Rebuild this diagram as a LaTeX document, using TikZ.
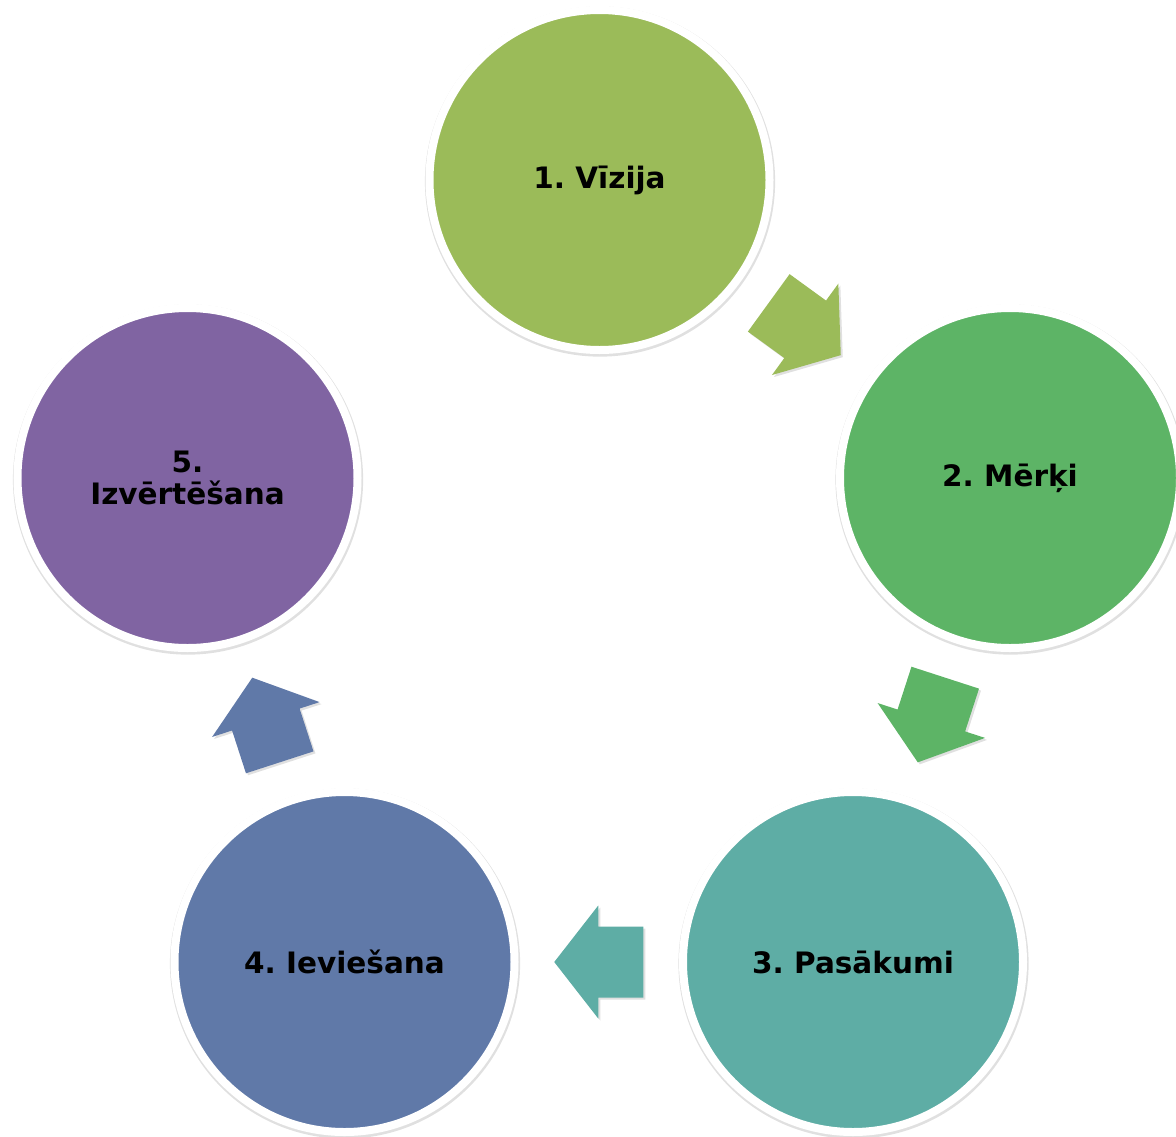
\documentclass[tikz,border=0pt]{standalone}
\usepackage{fontspec}
\setmainfont{DejaVu Sans}
\usetikzlibrary{calc,shadows}
\definecolor{cA}{HTML}{9BBB59}
\definecolor{cB}{HTML}{5DB466}
\definecolor{cC}{HTML}{5EADA5}
\definecolor{cD}{HTML}{6079A8}
\definecolor{cE}{HTML}{8064A2}
\tikzset{
  stage/.style={circle, minimum size=340pt, inner sep=0pt, draw=white, line width=8pt,
    font=\fontsize{29.5}{32}\selectfont\bfseries\frenchspacing, align=center, text=black,
    drop shadow={shadow xshift=0.5pt, shadow yshift=-1.5pt, shadow scale=1.03, opacity=0.12, fill=black}},
  flow/.style={draw=none, drop shadow={shadow xshift=2pt, shadow yshift=-2pt, opacity=0.12, fill=black}}
}
\newcommand\blockarrow[3]{%
  \coordinate (m) at ($(#1)!0.5!(#2)$);
  \coordinate (hb) at ($(m)!0.5pt!(#2)$);
  \coordinate (tc) at ($(m)!-44.5pt!(#2)$);
  \fill[flow, fill=#3] ($(m)!44.5pt!(#2)$)
    -- ($(hb)!56.5pt!90:(#2)$) -- ($(hb)!35.5pt!90:(#2)$)
    -- ($(tc)!35.5pt!90:(#2)$) -- ($(tc)!35.5pt!-90:(#2)$)
    -- ($(hb)!35.5pt!-90:(#2)$) -- ($(hb)!56.5pt!-90:(#2)$) -- cycle;
}
\begin{document}
\begin{tikzpicture}[x=1pt,y=-1pt]
\useasboundingbox (0,0) rectangle (1176,1136);
\node[stage, fill=cA] (c1) at (599.5,180) {1. Vīzija};
\node[stage, fill=cB] (c2) at (1010,478) {2. Mērķi};
\node[stage, fill=cC] (c3) at (853,962) {3. Pasākumi};
\node[stage, fill=cD] (c4) at (344.5,962) {4. Ieviešana};
\node[stage, fill=cE] (c5) at (187.5,478) {5.\\Izvērtēšana};
\blockarrow{c1}{c2}{cA}
\blockarrow{c2}{c3}{cB}
\blockarrow{c3}{c4}{cC}
\blockarrow{c4}{c5}{cD}
\end{tikzpicture}
\end{document}
